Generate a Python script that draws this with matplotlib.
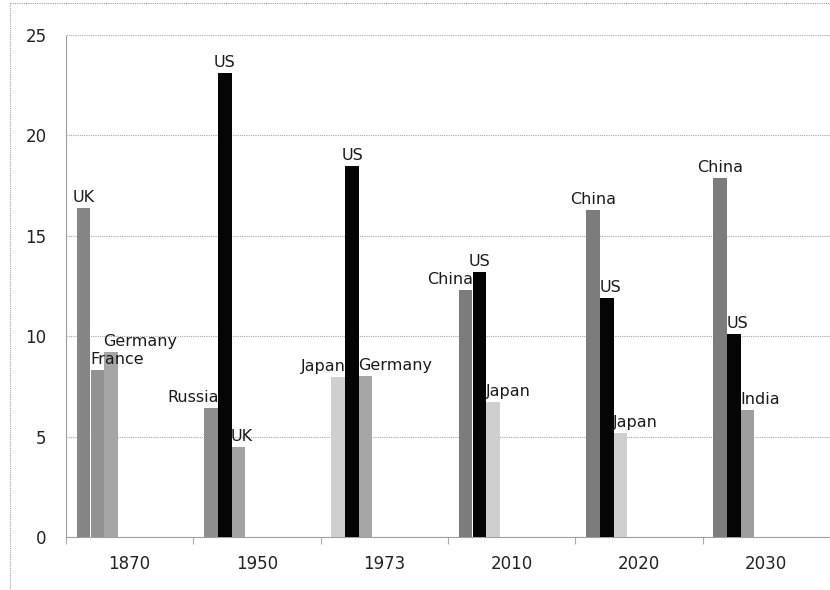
import matplotlib
matplotlib.use("Agg")
import matplotlib.pyplot as plt
from matplotlib.lines import Line2D
import numpy as np

years = ["1870", "1950", "1973", "2010", "2020", "2030"]
slot1_names = ["UK", "Russia", "Japan", "China", "China", "China"]
slot1_vals = [16.4, 6.4, 7.95, 12.3, 16.3, 17.9]
slot2_names = ["France", "US", "US", "US", "US", "US"]
slot2_vals = [8.3, 23.1, 18.5, 13.2, 11.9, 10.1]
slot3_names = ["Germany", "UK", "Germany", "Japan", "Japan", "India"]
slot3_vals = [9.2, 4.5, 8.0, 6.7, 5.2, 6.3]
y_ticks = [0, 5, 10, 15, 20, 25]

# styles
colors = {
    "UK": "#858585", "Russia": "#8e8e8e", "Japan": "#cfcfcf", "China": "#7c7c7c",
    "France": "#929292", "US": "#050505", "Germany": "#a6a6a6", "India": "#9e9e9e",
}
slot3_uk_color = "#a3a3a3"
# label alignment per slot/category
ha1 = ["center", "right", "right", "right", "center", "center"]
ha2 = ["left", "center", "center", "center", "left", "left"]
ha3 = ["left", "left", "left", "left", "left", "left"]

fig = plt.figure(figsize=(8.3, 5.9), dpi=100)
ax = fig.add_axes([66 / 830, 1 - 537 / 590, 1 - 66 / 830, (537 - 35) / 590])

x = np.arange(len(years))
w = 0.107
offs = [-0.417, -0.307, -0.200]
slots = [(slot1_names, slot1_vals, ha1), (slot2_names, slot2_vals, ha2), (slot3_names, slot3_vals, ha3)]
for si, (names, vals, has) in enumerate(slots):
    for i in range(len(years)):
        c = colors[names[i]]
        if si == 2 and names[i] == "UK":
            c = slot3_uk_color
        left = x[i] + offs[si]
        ax.bar(left, vals[i], width=w, align="edge", color=c, edgecolor="none", zorder=3)
        if has[i] == "center":
            tx = left + w / 2
        elif has[i] == "right":
            tx = left + w + 0.01
        else:
            tx = left - 0.005
        ax.text(tx, vals[i] + 0.15, names[i], ha=has[i], va="bottom",
                fontsize=11.5, color="#1a1a1a", zorder=4)

ax.set_xlim(-0.5, len(years) - 0.5)
ax.set_ylim(0, 25)
ax.set_yticks(y_ticks)
ax.set_yticklabels([str(v) for v in y_ticks])
ax.set_xticks(x)
ax.set_xticklabels(years)
ax.set_xticks(np.arange(-0.5, len(years)), minor=True)
ax.tick_params(axis="y", length=0, pad=14, labelsize=12, labelcolor="#222222")
ax.tick_params(axis="x", which="major", length=0, pad=13, labelsize=12, labelcolor="#222222")
ax.tick_params(axis="x", which="minor", length=5, width=0.8, color="#aaaaaa", direction="out")

ax.grid(axis="y", linestyle=(0, (1, 1)), color="#a8a8a8", linewidth=0.8, zorder=0)
for s in ["top", "right"]:
    ax.spines[s].set_visible(False)
for s in ["left", "bottom"]:
    ax.spines[s].set_linestyle((0, (1, 1)))
    ax.spines[s].set_color("#a0a0a0")
    ax.spines[s].set_linewidth(0.8)

# outer dotted frame of the original image
fig.add_artist(Line2D([10 / 830, 10 / 830], [1 - 3 / 590, 0], transform=fig.transFigure,
                      linestyle=(0, (1, 1)), color="#a0a0a0", linewidth=0.8))
fig.add_artist(Line2D([10 / 830, 1], [1 - 3 / 590, 1 - 3 / 590], transform=fig.transFigure,
                      linestyle=(0, (1, 1)), color="#a0a0a0", linewidth=0.8))

fig.savefig("out.png", dpi=100)
